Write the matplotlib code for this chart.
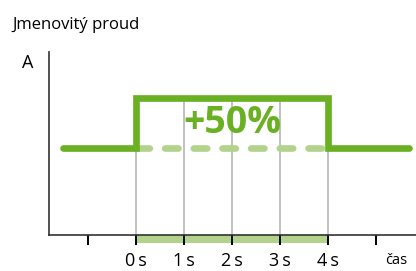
import matplotlib
matplotlib.use("Agg")
import matplotlib.pyplot as plt

# time axis (seconds) and current levels (relative to nominal)
tick_secs = [-1, 0, 1, 2, 3, 4, 5]
tick_labels = ["", "0\u2009s", "1\u2009s", "2\u2009s", "3\u2009s", "4\u2009s", ""]
grid_secs = [0, 1, 2, 3, 4]
step_x = [-1.52, 0, 0, 4, 4, 5.69]
step_y = [1.0, 1.0, 1.5, 1.5, 1.0, 1.0]
nominal = 1.0
overload = 1.5
overload_start = 0
overload_end = 4

green = "#6ab023"
light_green = "#b3d38c"
grey = "#b0b0b0"
axis_col = "#333333"

plt.rcParams['font.family'] = ['Open Sans', 'DejaVu Sans']

fig = plt.figure(figsize=(4.16, 2.71), dpi=100)
ax = fig.add_axes([49/416, 36/271, 367/416, 183/271])
ax.set_xlim(-1.8125, 5.833)
ax.set_ylim(0.13, 1.96)

for s in ["top", "right"]:
    ax.spines[s].set_visible(False)
for s in ["left", "bottom"]:
    ax.spines[s].set_color(axis_col)
    ax.spines[s].set_linewidth(1.2)

# grey second markers
ax.vlines(grid_secs, 0.13, overload, color=grey, lw=1.1, zorder=1)

# nominal level (dashed) during overload
ax.plot([overload_start, overload_end], [nominal, nominal], color=light_green,
        lw=4.8, dashes=(2.0, 2.3), dash_capstyle="round", zorder=2)

# current step
ax.plot(step_x, step_y, color=green, lw=4.8, solid_capstyle="round",
        solid_joinstyle="miter", zorder=3)

ax.text(2, 1.255, "+50%", color=green, fontsize=27, fontweight="bold",
        ha="center", va="center", zorder=4)

# highlighted interval below axis
ax.axvspan(overload_start, overload_end, ymin=-0.044, ymax=0, color=light_green,
           clip_on=False, lw=0)

ax.set_yticks([])
ax.set_xticks(tick_secs)
ax.set_xticklabels(tick_labels, fontsize=13)
ax.tick_params(axis="x", direction="out", length=7.5, width=1.4, color="black", pad=5)

ax.text(5.42, -0.14, "čas", fontsize=10.5, ha="center", va="center",
        transform=ax.get_xaxis_transform(), clip_on=False)
fig.text(28/416, 1 - 63/271, "A", fontsize=13, ha="center", va="center")
fig.text(12/416, 1 - 25/271, "Jmenovitý proud", fontsize=12, ha="left", va="center",
         family=['Liberation Sans Narrow', 'Open Sans', 'DejaVu Sans'])

fig.savefig("out.png", dpi=100)
